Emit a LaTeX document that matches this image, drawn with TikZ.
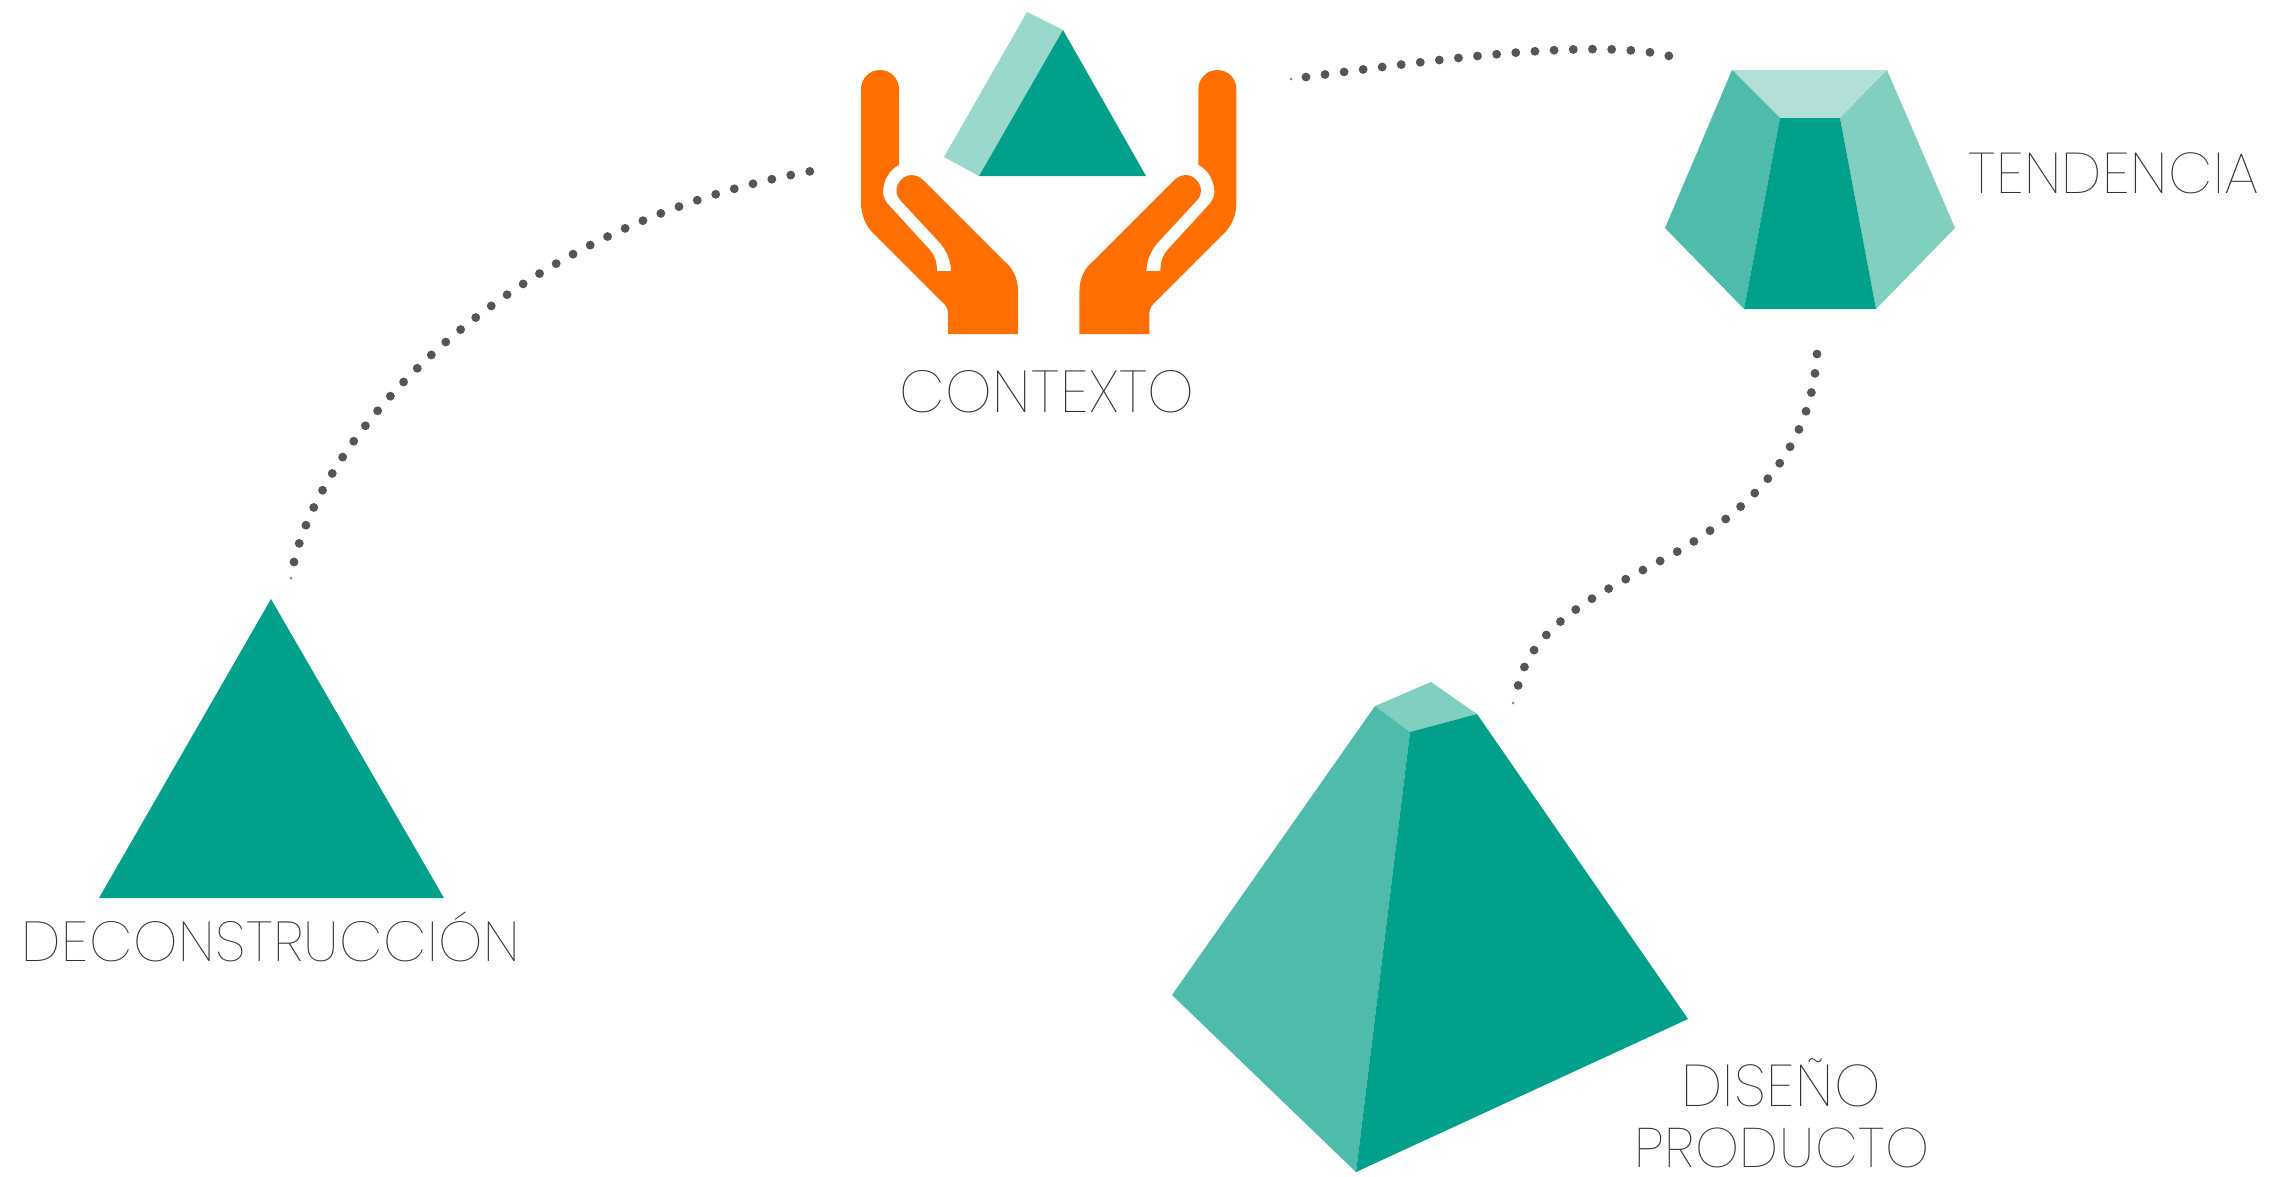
\documentclass[tikz,border=0pt]{standalone}
\usepackage{fontspec}
\newfontfamily\labelfont[LetterSpace=1]{Poppins Thin}
\definecolor{tealdark}{RGB}{0,160,138}
\definecolor{tealmid}{RGB}{79,187,170}
\definecolor{teallight}{RGB}{128,207,192}
\definecolor{tealpale}{RGB}{178,224,216}
\definecolor{tealside}{RGB}{154,216,206}
\definecolor{handorange}{RGB}{255,110,0}
\definecolor{dotgrey}{RGB}{85,85,85}
\definecolor{labelgrey}{RGB}{50,50,50}
\newcommand{\handpath}{(899,89) -- (899,165) .. controls (890,169) and (883,180) .. (883,192) .. controls (883,197) and (885,200) .. (887,203) -- (930,250) .. controls (935,256) and (937,262) .. (937,271) -- (951,271) .. controls (951,262) and (947,251) .. (940,243) -- (901,201) .. controls (895,195) and (895,186) .. (901,180) .. controls (906,174) and (916,173) .. (923,180) -- (1003,260) .. controls (1013,268) and (1018,278) .. (1018,292) -- (1018,334) -- (948,334) -- (948,313) .. controls (948,308) and (945,304) .. (940,300) -- (873,233) .. controls (866,226) and (861,215) .. (861,203) -- (861,89) .. controls (861,78.5) and (869.5,70) .. (880,70) .. controls (890.5,70) and (899,78.5) .. (899,89) -- cycle}
\tikzset{
	facedark/.style={fill=tealdark},
	facemid/.style={fill=tealmid},
	facelight/.style={fill=teallight},
	facepale/.style={fill=tealpale},
	dotline/.style={dotgrey,line width=3.1pt,line cap=round,dash pattern=on 0pt off #1},
	dotend/.style={fill=dotgrey!70},
	lbl/.style={inner sep=0pt,text=labelgrey,font=\labelfont\fontsize{#1}{24}\selectfont}
}
\begin{document}
\begin{tikzpicture}[x=0.35pt,y=0.35pt,yscale=-1,xscale=1]
	\useasboundingbox (0,0) rectangle (2274,1176);

	%Deconstruccion triangle
	\fill [facedark] (271,599) -- (444,898) -- (99,898) -- cycle;

	%Context triangle
	\fill [fill=tealside] (1027,12) -- (1063,30) -- (979,176) -- (944,157) -- cycle;
	\fill [facedark] (1063,30) -- (1146,176) -- (979,176) -- cycle;

	%Hands
	\fill [handorange] \handpath;
	\begin{scope}[shift={(2097.4,0)},xscale=-1]
		\fill [handorange] \handpath;
	\end{scope}

	%Tendencia solid
	\fill [facepale] (1732,70) -- (1887,70) -- (1840,118) -- (1780,118) -- cycle;
	\fill [facemid] (1732,70) -- (1780,118) -- (1744,309) -- (1665,228) -- cycle;
	\fill [facelight] (1887,70) -- (1955,228) -- (1876,309) -- (1840,118) -- cycle;
	\fill [facedark] (1780,118) -- (1840,118) -- (1876,309) -- (1744,309) -- cycle;

	%Diseno solid
	\fill [facelight] (1431,682) -- (1477,714) -- (1410,732) -- (1375,706) -- cycle;
	\fill [facemid] (1375,706) -- (1410,732) -- (1356,1172) -- (1172,995) -- cycle;
	\fill [facedark] (1410,732) -- (1477,714) -- (1688,1019) -- (1356,1172) -- cycle;

	%Labels
	\node [lbl=19.7] (deconstruccion) at (271,937) {DECONSTRUCCIÓN};
	\node [lbl=20.7] (contexto) at (1047,392) {CONTEXTO};
	\node [lbl=20.1] (tendencia) at (2114,173) {TENDENCIA};
	\node [lbl=20.6] (diseno) at (1781,1083) {DISEÑO};
	\node [lbl=19.5] (producto) at (1782,1148) {PRODUCTO};

	%Dotted link ends
	\coordinate (decotop) at (294,562);
	\coordinate (ctxleft) at (812,171);
	\coordinate (ctxright) at (1306,77);
	\coordinate (tendleft) at (1673,57);
	\coordinate (tendlow) at (1817,354);
	\coordinate (midbend) at (1693,542);
	\coordinate (disetop) at (1518,686);

	%Dotted links
	\draw [dotline=6.78pt] (decotop) .. controls (325,430) and (510,225) .. (ctxleft);
	\draw [dotline=6.72pt] (ctxright) .. controls (1420,62) and (1600,36) .. (tendleft);
	\draw [dotline=6.82pt] (tendlow) .. controls (1812,430) and (1775,490) .. (midbend) .. controls (1640,577) and (1535,610) .. (disetop);

	%Small marks at the ends
	\fill [dotend] (291,578) circle [radius=1.5];
	\fill [dotend] (1291,79) circle [radius=1.5];
	\fill [dotend] (1513,703) circle [radius=1.5];
\end{tikzpicture}
\end{document}
